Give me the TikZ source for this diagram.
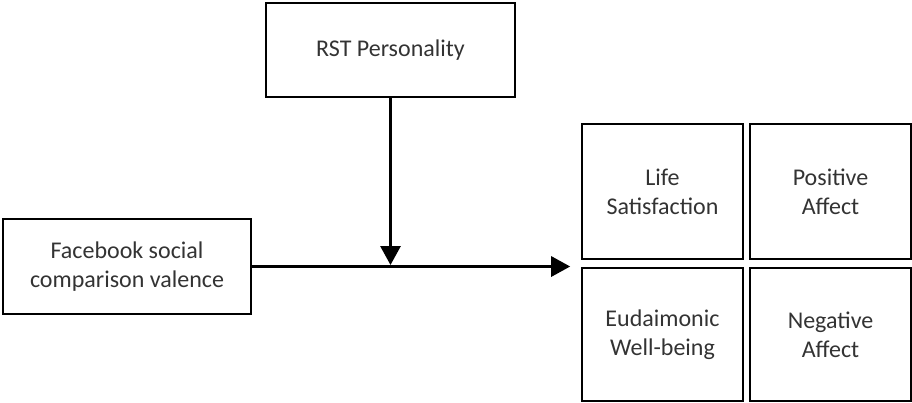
\documentclass[tikz,border=0pt]{standalone}
\usepackage{fontspec}
\setmainfont{Carlito}
\usetikzlibrary{arrows.meta}
\tikzstyle{box} = [draw=black, line width=1.6pt, text=black!80, align=center, inner sep=0pt, font=\fontsize{24}{29}\selectfont]
\tikzstyle{arrow} = [line width=3pt, -{Triangle[length=19pt,width=20pt]}]

\begin{document}
\begin{tikzpicture}[x=1pt,y=-1pt]
\useasboundingbox (0,0) rectangle (912,402);

% predictor and moderator
\node [box, minimum width=249pt, minimum height=94pt] (rst) at (390.5,50) {RST Personality};
\node [box, minimum width=248pt, minimum height=95pt] (fb) at (127,266.5) {Facebook social\\comparison valence};

% outcomes
\node [box, minimum width=161pt, minimum height=135pt] (lsat) at (662.5,191.5) {Life\\Satisfaction};
\node [box, minimum width=161pt, minimum height=135pt] (posaff) at (830.5,191.5) {Positive\\Affect};
\node [box, minimum width=161pt, minimum height=133pt] (eud) at (662.5,334.5) {Eudaimonic\\Well-being};
\node [box, minimum width=161pt, minimum height=133pt] (negaff) at (830.5,334.5) {Negative\\Affect};

\draw [arrow, shorten >=11pt] (fb.east) -- (fb.east -| lsat.west); % fb-outcomes
\draw [arrow, shorten >=1.5pt] (rst.south) -- (rst.south |- fb.east); % rst-path

\end{tikzpicture}
\end{document}
